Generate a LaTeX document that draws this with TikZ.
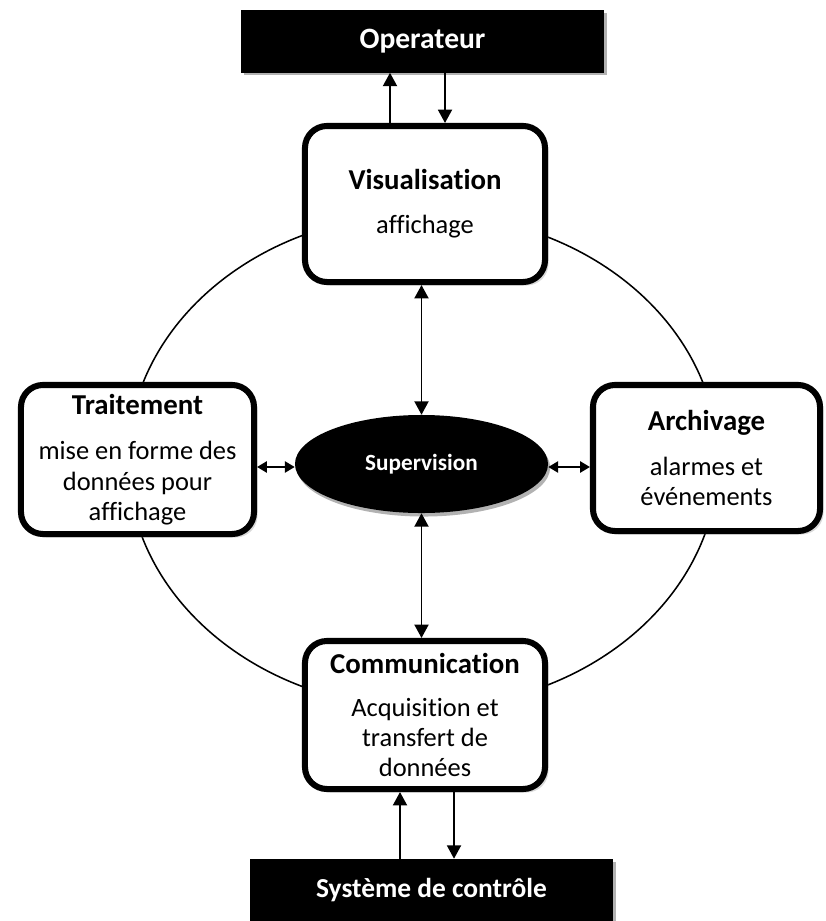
\documentclass[tikz,border=0pt]{standalone}
\usepackage{fontspec}
\setmainfont{Carlito}[Ligatures=NoCommon]
\usetikzlibrary{arrows.meta, positioning, shapes.geometric, shadows}
\newcommand{\boxtitle}{\fontsize{20.5}{24}\selectfont\bfseries}
\newcommand{\bodyfont}{\fontsize{18.8}{21.5}\selectfont}
\newcommand{\barfont}{\fontsize{21}{24}\selectfont\bfseries}

\begin{document}
\begin{tikzpicture}[x=0.025cm, y=-0.025cm,
    box/.style={draw=black, line width=4.3pt, fill=white, rounded corners=0.55cm,
                align=center, inner sep=0pt, font=\bodyfont,
                drop shadow={shadow xshift=2.5pt, shadow yshift=-2.5pt, opacity=0.3}},
    bar/.style={fill=black, text=white, font=\barfont, inner sep=0pt,
                minimum width=9.075cm, minimum height=1.55cm,
                drop shadow={shadow xshift=2pt, shadow yshift=-2pt, fill=gray!60, opacity=1}},
    hub/.style={ellipse, fill=black, text=white, inner sep=0pt,
                font=\fontsize{16.5}{19}\selectfont\bfseries,
                minimum width=6.325cm, minimum height=2.45cm,
                drop shadow={shadow xshift=1.5pt, shadow yshift=-2.5pt, fill=gray!60, opacity=1}},
    ring/.style={line width=1.1pt},
    line/.style={-{Triangle[length=9.5pt,width=10pt]}, line width=1.2pt},
    both/.style={{Triangle[length=9.5pt,width=10pt]}-{Triangle[length=9.5pt,width=10pt]}, line width=1.2pt},
    short/.style={{Triangle[length=7pt,width=8pt]}-{Triangle[length=7pt,width=8pt]}, line width=1.2pt}]

    \useasboundingbox (0,0) rectangle (825,921);

    % cycle behind the blocks
    \draw[ring] (423,461) ellipse [x radius=7.375cm, y radius=6.175cm];

    % outside world
    \node[bar] (op)  at (422.5,41.5) {Operateur};
    \node[bar] (sys) at (431.5,890)  {\fontsize{19.5}{22}\selectfont Système de contrôle};

    % blocks of the cycle
    \node[box, minimum width=6cm, minimum height=3.9cm] (vis) at (425,204)
        {{\boxtitle Visualisation}\\[10pt]affichage};
    \node[box, minimum width=5.825cm, minimum height=3.725cm] (trt) at (137.5,459.5)
        {{\boxtitle Traitement}\\[11pt]mise en forme des\\données pour\\affichage};
    \node[box, minimum width=5.675cm, minimum height=3.65cm] (arc) at (706.5,458)
        {{\boxtitle Archivage}\\[10pt]alarmes et\\événements};
    \node[box, minimum width=6cm, minimum height=3.7cm] (com) at (425,715)
        {{\boxtitle Communication}\\[9pt]Acquisition et\\transfert de\\données};

    \node[hub] (sup) at (421.5,464) {Supervision};

    % exchanges with the operator and the plant
    \coordinate (visL) at ([xshift=-0.875cm]vis.north);
    \coordinate (visR) at ([xshift=0.5cm]vis.north);
    \coordinate (comL) at ([xshift=-0.625cm]com.south);
    \coordinate (comR) at ([xshift=0.725cm]com.south);
    \draw[line] (visL) -- (visL |- op.south);
    \draw[line] (visR |- op.south) -- (visR);
    \draw[line] (comL |- sys.north) -- (comL);
    \draw[line] (comR) -- (comR |- sys.north);

    % links to the supervision core
    \draw[both] (sup.north |- vis.south) -- (sup.north);
    \draw[both] (sup.south) -- (sup.south |- com.north);
    \draw[short] (trt.east |- 0,467) -- (sup.west |- 0,467);
    \draw[short] (sup.east |- 0,467) -- (arc.west |- 0,467);
\end{tikzpicture}
\end{document}
